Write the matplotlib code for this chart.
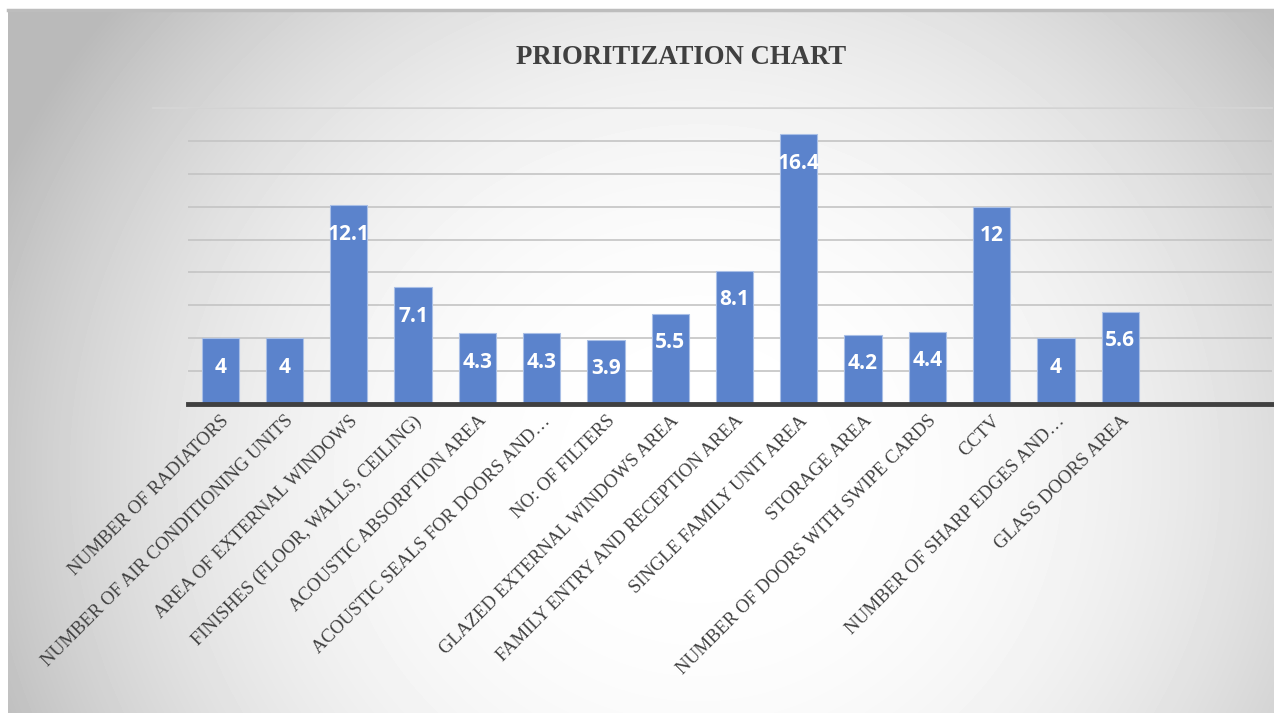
import numpy as np
import matplotlib
matplotlib.use("Agg")
import matplotlib.pyplot as plt

categories = [
    "NUMBER OF RADIATORS",
    "NUMBER OF AIR CONDITIONING UNITS",
    "AREA OF EXTERNAL WINDOWS",
    "FINISHES (FLOOR, WALLS, CEILING)",
    "ACOUSTIC ABSORPTION AREA",
    "ACOUSTIC SEALS FOR DOORS AND\u2026",
    "NO: OF FILTERS",
    "GLAZED EXTERNAL WINDOWS AREA",
    "FAMILY ENTRY AND RECEPTION AREA",
    "SINGLE FAMILY UNIT AREA",
    "STORAGE AREA",
    "NUMBER OF DOORS WITH SWIPE CARDS",
    "CCTV",
    "NUMBER OF SHARP EDGES AND\u2026",
    "GLASS DOORS AREA",
]
values = [4, 4, 12.1, 7.1, 4.3, 4.3, 3.9, 5.5, 8.1, 16.4, 4.2, 4.4, 12, 4, 5.6]
title = "PRIORITIZATION CHART"

W, H = 1274, 713
fig = plt.figure(figsize=(W / 100, H / 100), dpi=100)
fig.patch.set_facecolor("white")

# radial gradient panel behind the chart
bg = fig.add_axes([8 / W, 0, 1 - 8 / W, 1 - 10 / H])
bg.set_axis_off()
yy, xx = np.mgrid[0:703, 0:1266]
cx, cy = 690, 460
r = np.sqrt((xx - cx) ** 2 + ((yy - cy) / 0.95) ** 2)
r = np.clip(r / 760, 0, 1)
shade = 1.0 - 0.27 * r ** 2.5
bg.imshow(shade, cmap="gray", vmin=0, vmax=1, aspect="auto",
          interpolation="bilinear")
fig.add_artist(plt.Line2D([8 / W, 1], [1 - 10 / H, 1 - 10 / H],
                          color="#bdbdbd", lw=2.5))
# plot area top edge
fig.add_artist(plt.Line2D([153 / W, 1272 / W], [1 - 108 / H, 1 - 108 / H],
                          color="#d6d6d6", lw=1.2))

ax = fig.add_axes([188 / W, 1 - 404 / H, (1272 - 188) / W, (404 - 108) / H])
ax.patch.set_alpha(0)
x = np.arange(len(categories))
ax.bar(x, values, width=0.58, color="#5b83cc",
       edgecolor="#a9bfe6", linewidth=0.8, zorder=3)
ax.set_xlim(-0.5, 16.36)
ax.set_ylim(0, 18)
ax.set_yticks(np.arange(2, 19, 2))
ax.yaxis.grid(True, color="#c4c4c4", lw=1.2, zorder=0)
ax.tick_params(axis="y", length=0, labelleft=False)
ax.tick_params(axis="x", length=0, pad=6)
for s in ["top", "right", "left"]:
    ax.spines[s].set_visible(False)
ax.spines["bottom"].set_color("#404040")
ax.spines["bottom"].set_linewidth(3.5)
ax.spines["bottom"].set_zorder(4)

ax.set_xticks(x)
ax.set_xticklabels(categories, rotation=45, ha="right",
                   rotation_mode="anchor", family="Liberation Serif",
                   fontsize=13.5, color="#404040")

for xi, v in zip(x, values):
    ax.annotate(f"{v:g}", (xi, v), xytext=(0, -29), textcoords="offset pixels",
                ha="center", va="center", color="white", fontsize=15,
                fontweight="bold", family="Open Sans", zorder=5)

fig.text(681 / W, 1 - 57 / H, title, ha="center", va="center",
         family="Liberation Serif", fontweight="bold", fontsize=19.3,
         color="#404040")

fig.savefig("out.png", dpi=100)
